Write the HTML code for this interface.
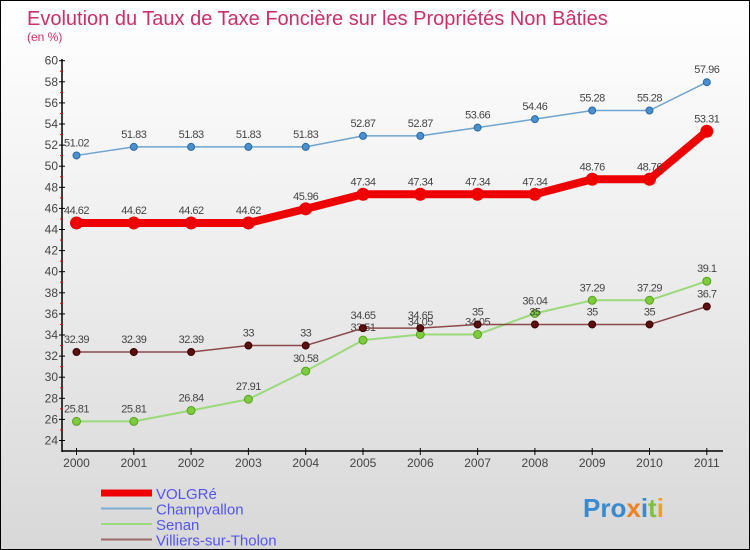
<!DOCTYPE html>
<html><head><meta charset="utf-8"><style>
body{margin:0}
#c{width:750px;height:550px;position:relative;box-sizing:border-box;border:1px solid #000;background:linear-gradient(#fff,#f4f4f4 30%,#d8d8d8);font-family:"Liberation Sans",sans-serif;overflow:hidden}
</style></head><body>
<div id="c">
<svg id="s" width="750" height="550" style="position:absolute;left:0;top:0">
<text x="26" y="24" font-size="20" fill="#c8306a">Evolution du Taux de Taxe Foncière sur les Propriétés Non Bâties</text>
<text x="26" y="40" font-size="12" fill="#c8306a">(en %)</text>
</svg>
</div>
<script>
const years=[2000,2001,2002,2003,2004,2005,2006,2007,2008,2009,2010,2011];
const volgre=[44.62,44.62,44.62,44.62,45.96,47.34,47.34,47.34,47.34,48.76,48.76,53.31];
const champvallon=[51.02,51.83,51.83,51.83,51.83,52.87,52.87,53.66,54.46,55.28,55.28,57.96];
const senan=[25.81,25.81,26.84,27.91,30.58,33.51,34.05,34.05,36.04,37.29,37.29,39.1];
const villiers=[32.39,32.39,32.39,33,33,34.65,34.65,35,35,35,35,36.7];
const yTicks=[24,26,28,30,32,34,36,38,40,42,44,46,48,50,52,54,56,58,60];
const NS="http://www.w3.org/2000/svg";
const s=document.getElementById('s');
const X=i=>75.5+i*57.3;
const Y=v=>439.5-(v-24)*10.55;
function el(t,a,txt){const e=document.createElementNS(NS,t);for(const k in a)e.setAttribute(k,a[k]);if(txt!==undefined)e.textContent=txt;s.appendChild(e);return e;}
let e;
e=el('line',{x1:61,y1:58,x2:61,y2:451,stroke:'#000','stroke-width':1.5});


e=el('line',{x1:61,y1:450,x2:722,y2:450,stroke:'#000','stroke-width':1.5});


yTicks.forEach((v,i)=>{
 e=el('line',{x1:58,x2:64,y1:Y(v),y2:Y(v),stroke:'#000'});
 
 
 e=el('text',{x:57,y:Y(v)+4,'font-size':12,fill:'#444','text-anchor':'end'},String(v));
 
 
 if(i<yTicks.length-1){e=el('line',{x1:59,x2:62,y1:Y(v+1),y2:Y(v+1),stroke:'#e00'});
 
 }
});
years.forEach((y,i)=>{
 e=el('line',{x1:X(i),x2:X(i),y1:447,y2:454,stroke:'#000'});
 
 
 e=el('text',{x:X(i),y:466,'font-size':12,fill:'#444','text-anchor':'middle'},String(y));
 
 
});
function series(d,name,col,w,dot,r,lc){
 e=el('polyline',{points:d.map((v,i)=>X(i)+','+Y(v)).join(' '),fill:'none',stroke:col,'stroke-width':w,'stroke-linejoin':'round'});
 
 
 d.forEach((v,i)=>{
  e=el('circle',{cx:X(i),cy:Y(v),r:r,fill:dot,stroke:lc,'stroke-width':1});
  
  
  e=el('text',{x:X(i),y:Y(v)-9,'font-size':11,fill:'#444','text-anchor':'middle','letter-spacing':'-0.5'},String(v));
  
  
 });
}
series(champvallon,'champvallon','#6fa3d0',1.5,'#4a90d0',3.5,'#2a6aa0');
series(senan,'senan','#9ada7a',2,'#7ccc3c',4,'#5aa020');
series(villiers,'villiers','#8b4a4a',1.5,'#5a1010',3.5,'#3a0000');
series(volgre,'volgre','#ee0000',8,'#ee0000',6,'#ee0000');
const legend=[['VOLGRé','#ee0000',7],['Champvallon','#7aaed0',2],['Senan','#9ada7a',2],['Villiers-sur-Tholon','#9a6a6a',2]];
legend.forEach((l,i)=>{
 const y=492+i*15.5;
 e=el('line',{x1:100,x2:151,y1:y,y2:y,stroke:l[1],'stroke-width':l[2]});
 
 
 e=el('text',{x:155,y:y+6,'font-size':15,fill:'#5555ee'},l[0]);
 
 
});
e=el('text',{x:582,y:516,'font-size':26,'font-weight':'bold',fill:'#3a8ad0'});


[['Pro','#3a8ad0'],['x','#f08020'],['i','#3a8ad0'],['t','#80c040'],['i','#f0a020']].forEach(p=>{const t=document.createElementNS(NS,'tspan');t.setAttribute('fill',p[1]);t.textContent=p[0];e.appendChild(t);});
</script>
</body></html>
